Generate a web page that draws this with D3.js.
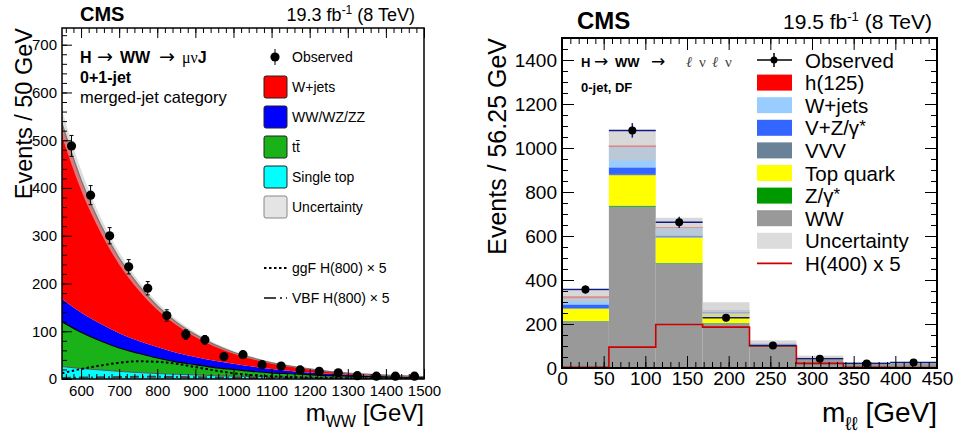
<!DOCTYPE html>
<html lang="en">
<head>
<meta charset="UTF-8">
<title>H to WW searches</title>
<script src="https://d3js.org/d3.v7.min.js"></script>
<style>
  body { margin: 0; background: #fff; }
  svg text { font-family: "Liberation Sans", Arial, Helvetica, sans-serif; fill: #000; }
</style>
</head>
<body>
<svg id="canvas"></svg>
<script>
// ---------- left panel: merged-jet category, m_WW ----------
let massPts   = [550, 600, 650, 700, 750, 800, 850, 900, 950, 1000, 1050, 1100, 1150, 1200, 1250, 1300, 1350, 1400, 1450, 1500]
let singleTop = [26, 22, 19, 16, 13.5, 11.5, 10, 8.5, 7, 6, 5, 4.3, 3.6, 3, 2.6, 2.2, 1.9, 1.6, 1.3, 1.1]
let ttbar     = [94, 76, 61, 49, 40.5, 32.5, 26, 21.5, 17, 14, 11, 8.7, 7.4, 6, 4.4, 3.8, 3.1, 2.4, 2, 1.6]
let diboson   = [48, 41, 36, 31, 26, 23, 19, 16, 14, 12, 10, 8, 6, 4.5, 4, 3, 2.2, 1.8, 1.4, 1.1]
let wjets     = [367, 278, 209, 157, 117, 86, 64, 47, 34, 24, 18, 13, 10, 7.5, 5, 3.5, 2.8, 2.2, 1.6, 1.2]
let bkgUnc    = [27, 21, 16, 13, 10, 8, 6, 5, 4, 3, 2.5, 2, 1.5, 1.2, 1, 0.8, 0.6, 0.5, 0.4, 0.3]
let ggfH800   = [12, 21, 28, 34, 37, 36, 32, 25, 18, 12, 8, 5.5, 4, 3, 2.2, 1.6, 1.2, 0.9, 0.7, 0.5]
let vbfH800   = [2, 3, 3.5, 4, 4.5, 4.5, 4.2, 3.8, 3.3, 2.8, 2.3, 1.9, 1.5, 1.2, 1, 0.8, 0.6, 0.5, 0.4, 0.3]

let obsMass = [575, 625, 675, 725, 775, 825, 875, 925, 975, 1025, 1075, 1125, 1175, 1225, 1275, 1325, 1375, 1425, 1475]
let obsLeft = [488, 385, 300, 235, 190, 133, 93, 82, 47, 51, 30, 27, 19, 16, 13, 7, 6, 6, 6]
let errLeft = [22, 20, 17, 15, 14, 12, 10, 9, 7, 7, 5.5, 5, 4.4, 4, 3.6, 2.6, 2.4, 2.4, 2.4]

let leftXTicks = [600, 700, 800, 900, 1000, 1100, 1200, 1300, 1400, 1500]
let leftYTicks = [0, 100, 200, 300, 400, 500, 600, 700]

// ---------- right panel: 0-jet DF, m_ll ----------
let binEdges = [0, 56.25, 112.5, 168.75, 225, 281.25, 337.5, 393.75, 450]
let bkgWW    = [212, 733, 475, 203, 95, 38, 17, 18]
let bkgZg    = [2, 5, 3, 2, 1, 0.5, 0.3, 0.3]
let bkgTop   = [55, 138, 115, 42, 10, 5, 2, 2]
let bkgVVV   = [2, 6, 4, 3, 1, 1, 0.5, 0.5]
let bkgVZg   = [18, 30, 6, 5, 2, 1, 0.5, 0.7]
let bkgWjets = [28, 92, 34, 7, 2, 1.5, 1, 1]
let sigH125  = [9, 8, 4, 1, 0.5, 0.2, 0, 0]
let uncRight = [26, 70, 42, 36, 14, 9, 6, 5]
let obsRight = [357, 1080, 662, 228, 102, 42, 20, 25]
let errRight = [19, 33, 26, 15, 10, 6.5, 4.5, 5]
let h400x5   = [3, 95, 198, 186, 100, 21, 3, 2]

let rightXTicks = [0, 50, 100, 150, 200, 250, 300, 350, 400, 450]
let rightYTicks = [0, 200, 400, 600, 800, 1000, 1200, 1400]

let width = 955
let height = 437
let svg = d3.select('#canvas').attr('width', width).attr('height', height)

// rich text helper: parts get their own tspan
let richText = (x, y, size, parts, anchor) => {
    let t = svg.append('text').attr('x', x).attr('y', y)
        .attr('font-size', size).attr('text-anchor', anchor || 'start')
    parts.forEach(p => {
        let s = t.append('tspan').text(p.t)
        if (p.x != null) s.attr('x', p.x)
        if (p.size) s.attr('font-size', p.size)
        if (p.bold) s.attr('font-weight', 'bold')
        if (p.dy) s.attr('dy', p.dy)
        if (p.family) s.style('font-family', p.family)
        if (p.fill) s.style('fill', p.fill)
        if (p.italic) s.attr('font-style', 'italic')
    })
    return t
}

// inward ticks
let drawTicks = (axisGen, scale, vals, len, tr, labels, size, pad) => {
    let a = axisGen(scale).tickValues(vals).tickSizeInner(-len).tickSizeOuter(0).tickPadding(pad || 5)
    a.tickFormat(labels ? d3.format('d') : '')
    let g = svg.append('g').attr('transform', tr).call(a)
    g.select('.domain').remove()
    g.selectAll('line').attr('stroke', '#000').attr('stroke-width', 1)
    g.attr('font-size', size || 10).attr('font-family', null)
    g.selectAll('text').style('fill', '#000')
    return g
}

// ================= LEFT =================
let L = {x0: 62, x1: 424, y0: 28, y1: 379}
let xL = d3.scaleLinear().domain([550, 1500]).range([L.x0, L.x1])
let yL = d3.scaleLinear().domain([0, 735]).range([L.y1, L.y0])

svg.append('clipPath').attr('id', 'clipL').append('rect')
    .attr('x', L.x0).attr('y', L.y0).attr('width', L.x1 - L.x0).attr('height', L.y1 - L.y0)
let gL = svg.append('g').attr('clip-path', 'url(#clipL)')

let leftRows = massPts.map((m, i) => ({m: m, singleTop: singleTop[i], ttbar: ttbar[i], diboson: diboson[i], wjets: wjets[i]}))
let leftKeys = ['singleTop', 'ttbar', 'diboson', 'wjets']
let leftColors = {singleTop: '#00ffff', ttbar: '#19b219', diboson: '#0000ff', wjets: '#ff0000'}
let leftStack = d3.stack().keys(leftKeys)(leftRows)

let areaL = d3.area().curve(d3.curveMonotoneX)
    .x(d => xL(d.data.m)).y0(d => yL(d[0])).y1(d => yL(d[1]))
gL.selectAll('path.layer').data(leftStack).enter().append('path')
    .attr('class', 'layer').attr('d', areaL).attr('fill', d => leftColors[d.key])

let lineTop = d3.line().curve(d3.curveMonotoneX).x(d => xL(d.data.m)).y(d => yL(d[1]))
gL.append('path').attr('d', lineTop(leftStack[0])).attr('fill', 'none').attr('stroke', '#555').attr('stroke-width', 1)
gL.append('path').attr('d', lineTop(leftStack[1])).attr('fill', 'none').attr('stroke', '#000').attr('stroke-width', 1.2)

let totalL = leftRows.map((r, i) => ({m: r.m, tot: r.singleTop + r.ttbar + r.diboson + r.wjets, u: bkgUnc[i]}))
gL.append('path')
    .attr('d', d3.area().curve(d3.curveMonotoneX).x(d => xL(d.m)).y0(d => yL(d.tot - d.u)).y1(d => yL(d.tot + d.u))(totalL))
    .attr('fill', '#c8c8c8').attr('fill-opacity', 0.6)
gL.append('path')
    .attr('d', d3.line().curve(d3.curveMonotoneX).x(d => xL(d.m)).y(d => yL(d.tot))(totalL))
    .attr('fill', 'none').attr('stroke', '#777').attr('stroke-width', 1.3)

let sigLine = d3.line().curve(d3.curveMonotoneX).x((d, i) => xL(massPts[i])).y(d => yL(d))
gL.append('path').attr('d', sigLine(vbfH800)).attr('fill', 'none')
    .attr('stroke', '#444').attr('stroke-width', 2).attr('stroke-dasharray', '9,3,2,3')
gL.append('path').attr('d', sigLine(ggfH800)).attr('fill', 'none')
    .attr('stroke', '#000').attr('stroke-width', 2).attr('stroke-dasharray', '2.5,2.5')

// observed
let obsL = svg.append('g')
obsMass.forEach((m, i) => {
    let cx = xL(m)
    obsL.append('line').attr('x1', cx).attr('x2', cx).attr('y1', yL(obsLeft[i] - errLeft[i])).attr('y2', yL(obsLeft[i] + errLeft[i]))
        .attr('stroke', '#000').attr('stroke-width', 1)
    ;[obsLeft[i] - errLeft[i], obsLeft[i] + errLeft[i]].forEach(v => {
        obsL.append('line').attr('x1', cx - 2).attr('x2', cx + 2).attr('y1', yL(v)).attr('y2', yL(v)).attr('stroke', '#000')
    })
    obsL.append('circle').attr('cx', cx).attr('cy', yL(obsLeft[i])).attr('r', 4.6).attr('fill', '#000')
})

// axes
let leftMinorX = d3.range(560, 1501, 20)
let leftMinorY = d3.range(0, 735, 20)
drawTicks(d3.axisBottom, xL, leftXTicks, 10, `translate(0,${L.y1})`, true, 15, 6)
drawTicks(d3.axisBottom, xL, leftMinorX, 5, `translate(0,${L.y1})`, false)
drawTicks(d3.axisTop, xL, leftXTicks, 10, `translate(0,${L.y0})`, false)
drawTicks(d3.axisTop, xL, leftMinorX, 5, `translate(0,${L.y0})`, false)
drawTicks(d3.axisLeft, yL, leftYTicks, 10, `translate(${L.x0},0)`, true, 15, 5)
drawTicks(d3.axisLeft, yL, leftMinorY, 5, `translate(${L.x0},0)`, false)
svg.append('rect').attr('x', L.x0).attr('y', L.y0).attr('width', L.x1 - L.x0).attr('height', L.y1 - L.y0)
    .attr('fill', 'none').attr('stroke', '#000').attr('stroke-width', 1.5)

// texts
let arrowFont = '"DejaVu Sans", sans-serif'
richText(80, 21, 20, [{t: 'CMS', bold: true}])
richText(415, 21, 18, [{t: '19.3 fb'}, {t: '-1', size: 12, dy: -7}, {t: ' (8 TeV)', dy: 7}], 'end')
richText(80, 63, 16, [{t: 'H', bold: true}, {t: '\u2192', x: 97, family: arrowFont, size: 19},
    {t: 'WW', x: 120, bold: true}, {t: '\u2192', x: 159, family: arrowFont, size: 19},
    {t: '\u03bc\u03bd', x: 182, family: '"Liberation Serif", serif'}, {t: 'J', bold: true}])
richText(80, 83, 16, [{t: '0+1-jet', bold: true}])
richText(80, 103, 16.5, [{t: 'merged-jet category'}])
svg.append('text').attr('transform', 'translate(32,28) rotate(-90)').attr('text-anchor', 'end')
    .attr('font-size', 23.5).text('Events / 50 GeV')
richText(424, 421, 24, [{t: 'm'}, {t: 'WW', size: 16, dy: 6}, {t: ' [GeV]', dy: -6}], 'end')

// legend
let legL = [
    {label: 'W+jets', fill: '#ff0000'},
    {label: 'WW/WZ/ZZ', fill: '#0000ff'},
    {label: 'tt\u0304', fill: '#19b219'},
    {label: 'Single top', fill: '#00ffff'},
    {label: 'Uncertainty', fill: '#e4e4e4', stroke: '#888'}
]
svg.append('line').attr('x1', 275).attr('x2', 275).attr('y1', 49).attr('y2', 65).attr('stroke', '#000')
svg.append('circle').attr('cx', 275).attr('cy', 57).attr('r', 4.6).attr('fill', '#000')
richText(292, 62, 14, [{t: 'Observed'}])
legL.forEach((d, i) => {
    let cy = 87 + i * 30
    svg.append('rect').attr('x', 264).attr('y', cy - 11).attr('width', 23).attr('height', 22).attr('rx', 2)
        .attr('fill', d.fill).attr('stroke', d.stroke || '#222').attr('stroke-width', 1)
    richText(292, cy + 5, 14, [{t: d.label}])
})
svg.append('line').attr('x1', 264).attr('x2', 287).attr('y1', 268).attr('y2', 268)
    .attr('stroke', '#000').attr('stroke-width', 2).attr('stroke-dasharray', '2.5,2.5')
richText(292, 273, 14, [{t: 'ggF H(800) \u00d7 5'}])
svg.append('line').attr('x1', 264).attr('x2', 287).attr('y1', 298).attr('y2', 298)
    .attr('stroke', '#444').attr('stroke-width', 2).attr('stroke-dasharray', '12,4,2,4')
richText(292, 303, 14, [{t: 'VBF H(800) \u00d7 5'}])

// ================= RIGHT =================
let R = {x0: 562, x1: 937, y0: 38, y1: 368}
let xR = d3.scaleLinear().domain([0, 450]).range([R.x0, R.x1])
let yR = d3.scaleLinear().domain([0, 1500]).range([R.y1, R.y0])

svg.append('clipPath').attr('id', 'clipR').append('rect')
    .attr('x', R.x0).attr('y', R.y0).attr('width', R.x1 - R.x0).attr('height', R.y1 - R.y0)
let gR = svg.append('g').attr('clip-path', 'url(#clipR)')

let rightRows = bkgWW.map((v, i) => ({lo: binEdges[i], hi: binEdges[i + 1],
    WW: bkgWW[i], Zg: bkgZg[i], Top: bkgTop[i], VVV: bkgVVV[i], VZg: bkgVZg[i], Wjets: bkgWjets[i], h125: sigH125[i]}))
let rightKeys = ['WW', 'Zg', 'Top', 'VVV', 'VZg', 'Wjets', 'h125']
let rightColors = {WW: '#999999', Zg: '#009a00', Top: '#ffff00', VVV: '#6a8298', VZg: '#3366ff', Wjets: '#99ccff', h125: '#ff0000'}
let rightStack = d3.stack().keys(rightKeys)(rightRows)

rightStack.forEach(layer => {
    gR.selectAll(null).data(layer).enter().append('rect')
        .attr('x', d => xR(d.data.lo)).attr('width', d => xR(d.data.hi) - xR(d.data.lo))
        .attr('y', d => yR(d[1])).attr('height', d => yR(d[0]) - yR(d[1]))
        .attr('fill', rightColors[layer.key])
})
let topLayer = rightStack[rightStack.length - 1]
gR.selectAll(null).data(topLayer).enter().append('rect')
    .attr('x', (d, i) => xR(d.data.lo)).attr('width', d => xR(d.data.hi) - xR(d.data.lo))
    .attr('y', (d, i) => yR(d[1] + uncRight[i])).attr('height', (d, i) => yR(d[1] - uncRight[i]) - yR(d[1] + uncRight[i]))
    .attr('fill', '#c8c8c8').attr('fill-opacity', 0.7)

// H(400) x 5 step line
let stepPts = h400x5.map((v, i) => [binEdges[i], v]).concat([[450, h400x5[h400x5.length - 1]]])
gR.append('path').attr('d', d3.line().curve(d3.curveStepAfter).x(d => xR(d[0])).y(d => yR(d[1]))(stepPts))
    .attr('fill', 'none').attr('stroke', '#cc0000').attr('stroke-width', 1.6)

// observed
let obsR = svg.append('g')
obsRight.forEach((v, i) => {
    let cx = xR((binEdges[i] + binEdges[i + 1]) / 2)
    obsR.append('line').attr('x1', xR(binEdges[i])).attr('x2', xR(binEdges[i + 1])).attr('y1', yR(v)).attr('y2', yR(v))
        .attr('stroke', '#101a80').attr('stroke-width', 1.5)
    obsR.append('line').attr('x1', cx).attr('x2', cx).attr('y1', yR(v - errRight[i])).attr('y2', yR(v + errRight[i]))
        .attr('stroke', '#101a80').attr('stroke-width', 1.5)
    obsR.append('circle').attr('cx', cx).attr('cy', yR(v)).attr('r', 4).attr('fill', '#000')
})

let rightMinorX = d3.range(0, 451, 10)
let rightMinorY = d3.range(0, 1501, 50)
drawTicks(d3.axisBottom, xR, rightXTicks, 12, `translate(0,${R.y1})`, true, 19, 3)
drawTicks(d3.axisBottom, xR, rightMinorX, 6, `translate(0,${R.y1})`, false)
drawTicks(d3.axisTop, xR, rightXTicks, 12, `translate(0,${R.y0})`, false)
drawTicks(d3.axisTop, xR, rightMinorX, 6, `translate(0,${R.y0})`, false)
drawTicks(d3.axisLeft, yR, rightYTicks, 12, `translate(${R.x0},0)`, true, 19, 5)
drawTicks(d3.axisLeft, yR, rightMinorY, 6, `translate(${R.x0},0)`, false)
drawTicks(d3.axisRight, yR, rightYTicks, 12, `translate(${R.x1},0)`, false)
drawTicks(d3.axisRight, yR, rightMinorY, 6, `translate(${R.x1},0)`, false)
svg.append('rect').attr('x', R.x0).attr('y', R.y0).attr('width', R.x1 - R.x0).attr('height', R.y1 - R.y0)
    .attr('fill', 'none').attr('stroke', '#000').attr('stroke-width', 2)

richText(577, 29, 24, [{t: 'CMS', bold: true}])
richText(932, 29, 21, [{t: '19.5 fb'}, {t: '-1', size: 13, dy: -8}, {t: ' (8 TeV)', dy: 8}], 'end')
let serifGray = '"Liberation Serif", serif'
richText(581, 67, 13, [{t: 'H', bold: true}, {t: '\u2192', x: 594, family: arrowFont, size: 17},
    {t: 'WW', x: 615, bold: true}, {t: '\u2192', x: 651, family: arrowFont, size: 17},
    {t: '\u2113', x: 686, family: serifGray, fill: '#444', italic: true, size: 15},
    {t: '\u03bd', x: 699, family: serifGray, fill: '#444', size: 15},
    {t: '\u2113', x: 712, family: serifGray, fill: '#444', italic: true, size: 15},
    {t: '\u03bd', x: 725, family: serifGray, fill: '#444', size: 15}])
richText(581, 92, 13, [{t: '0-jet, DF', bold: true}])
svg.append('text').attr('transform', 'translate(506,38) rotate(-90)').attr('text-anchor', 'end')
    .attr('font-size', 25).text('Events / 56.25 GeV')
richText(937, 422, 28, [{t: 'm'}, {t: '\u2113\u2113', size: 19, dy: 8}, {t: ' [GeV]', dy: -8}], 'end')

// legend
let legR = [
    {label: 'h(125)', fill: '#ff0000'},
    {label: 'W+jets', fill: '#99ccff'},
    {label: 'V+Z/\u03b3', star: true, fill: '#3366ff'},
    {label: 'VVV', fill: '#6a8298'},
    {label: 'Top quark', fill: '#ffff00'},
    {label: 'Z/\u03b3', star: true, fill: '#009a00'},
    {label: 'WW', fill: '#999999'},
    {label: 'Uncertainty', fill: '#dcdcdc'}
]
svg.append('line').attr('x1', 757).attr('x2', 792).attr('y1', 60).attr('y2', 60).attr('stroke', '#000').attr('stroke-width', 1.5)
svg.append('line').attr('x1', 774).attr('x2', 774).attr('y1', 53).attr('y2', 67).attr('stroke', '#000').attr('stroke-width', 1.5)
svg.append('circle').attr('cx', 774).attr('cy', 60).attr('r', 3.5).attr('fill', '#000')
richText(805, 67.5, 20.5, [{t: 'Observed'}])
legR.forEach((d, i) => {
    let cy = 82.6 + i * 22.6
    svg.append('rect').attr('x', 757).attr('y', cy - 8).attr('width', 35).attr('height', 16).attr('fill', d.fill)
    let parts = [{t: d.label}]
    if (d.star) parts = [{t: d.label}, {t: '*', dy: -3, size: 17}]
    richText(805, cy + 7.5, 20.5, parts)
})
let h400Y = 82.6 + 8 * 22.6
svg.append('line').attr('x1', 757).attr('x2', 792).attr('y1', h400Y).attr('y2', h400Y).attr('stroke', '#cc0000').attr('stroke-width', 1.6)
richText(805, h400Y + 7.5, 20.5, [{t: 'H(400) x 5'}])
</script>
</body>
</html>
